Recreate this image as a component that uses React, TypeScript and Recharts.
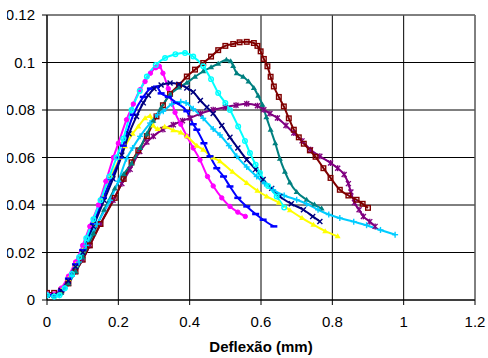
import React from 'react';
import {
  LineChart,
  Line,
  XAxis,
  YAxis,
  CartesianGrid,
  ReferenceLine,
} from 'recharts';

type Pt = [number, number];

const xTicks = [0, 0.2, 0.4, 0.6, 0.8, 1, 1.2];
const yTicks = [0, 0.02, 0.04, 0.06, 0.08, 0.1, 0.12];

const magenta: Pt[] = [
  [0, 0.0025], [0.02, 0.0025], [0.04, 0.005], [0.06, 0.01], [0.08, 0.016], [0.1, 0.023],
  [0.12, 0.031], [0.144, 0.04], [0.165, 0.05], [0.186, 0.06], [0.2, 0.066], [0.223, 0.0759],
  [0.242, 0.0825], [0.261, 0.0886], [0.275, 0.092], [0.29, 0.0955], [0.305, 0.0978],
  [0.315, 0.0984], [0.325, 0.0955], [0.34, 0.089], [0.359, 0.079], [0.375, 0.074],
  [0.392, 0.069], [0.41, 0.064], [0.429, 0.059], [0.45, 0.052], [0.466, 0.048],
  [0.49, 0.043], [0.513, 0.0394], [0.535, 0.037], [0.556, 0.0352],
];

const yellow: Pt[] = [
  [0, 0.002], [0.02, 0.002], [0.04, 0.004], [0.06, 0.009], [0.08, 0.015], [0.1, 0.021],
  [0.13, 0.032], [0.158, 0.043], [0.18, 0.052], [0.205, 0.06], [0.219, 0.0647], [0.24, 0.07],
  [0.256, 0.0731], [0.275, 0.0765], [0.289, 0.0775], [0.298, 0.0735], [0.31, 0.072],
  [0.33, 0.073], [0.354, 0.0715], [0.375, 0.0705], [0.392, 0.0689], [0.42, 0.065],
  [0.438, 0.0633], [0.465, 0.06], [0.485, 0.0584], [0.52, 0.054], [0.56, 0.0493],
  [0.59, 0.046], [0.616, 0.0436], [0.65, 0.041], [0.681, 0.0378], [0.715, 0.0345],
  [0.747, 0.0317], [0.78, 0.029], [0.815, 0.0268],
];

const blue: Pt[] = [
  [0, 0.002], [0.02, 0.002], [0.04, 0.004], [0.06, 0.009], [0.08, 0.015], [0.1, 0.021],
  [0.13, 0.032], [0.158, 0.043], [0.18, 0.051], [0.205, 0.06], [0.214, 0.065], [0.242, 0.078],
  [0.27, 0.0855], [0.29, 0.089], [0.307, 0.0898], [0.32, 0.087], [0.34, 0.0855],
  [0.363, 0.083], [0.392, 0.0795], [0.41, 0.074], [0.42, 0.0717], [0.44, 0.066],
  [0.457, 0.0605], [0.476, 0.0555], [0.495, 0.052], [0.513, 0.0478], [0.535, 0.043],
  [0.56, 0.0394], [0.585, 0.0362], [0.606, 0.0338], [0.636, 0.031],
];

const navy: Pt[] = [
  [0, 0.002], [0.02, 0.002], [0.04, 0.004], [0.06, 0.008], [0.08, 0.014], [0.1, 0.02],
  [0.13, 0.031], [0.16, 0.042], [0.185, 0.051], [0.21, 0.061], [0.23, 0.07], [0.251, 0.0773],
  [0.27, 0.083], [0.284, 0.0862], [0.3, 0.089], [0.32, 0.0905], [0.345, 0.0914],
  [0.37, 0.0908], [0.392, 0.0893], [0.41, 0.0876], [0.43, 0.084], [0.448, 0.0812],
  [0.466, 0.0785], [0.49, 0.0735], [0.513, 0.0685], [0.535, 0.064], [0.56, 0.0591],
  [0.585, 0.055], [0.606, 0.0507], [0.63, 0.047], [0.653, 0.0436], [0.685, 0.0405],
  [0.719, 0.038], [0.745, 0.0352], [0.765, 0.0331],
];

const cyan: Pt[] = [
  [0, 0.002], [0.02, 0.0015], [0.035, 0.002], [0.05, 0.005], [0.07, 0.011], [0.09, 0.018],
  [0.11, 0.026], [0.13, 0.034], [0.15, 0.042], [0.175, 0.052], [0.195, 0.06], [0.214, 0.068],
  [0.237, 0.08], [0.26, 0.088], [0.28, 0.0941], [0.305, 0.099], [0.331, 0.1019],
  [0.36, 0.1035], [0.387, 0.104], [0.41, 0.1025], [0.438, 0.0984], [0.46, 0.093],
  [0.48, 0.0872], [0.5, 0.083], [0.513, 0.08], [0.536, 0.0731], [0.555, 0.067],
  [0.569, 0.0619], [0.585, 0.057], [0.597, 0.0535], [0.62, 0.048], [0.644, 0.0436],
  [0.665, 0.039],
];

const sky: Pt[] = [
  [0, 0.002], [0.02, 0.0015], [0.035, 0.002], [0.05, 0.005], [0.07, 0.01], [0.09, 0.016],
  [0.11, 0.023], [0.14, 0.032], [0.177, 0.042], [0.2, 0.05], [0.223, 0.0595], [0.24, 0.064],
  [0.261, 0.0689], [0.289, 0.0745], [0.31, 0.078], [0.326, 0.0795], [0.35, 0.0825],
  [0.375, 0.0835], [0.39, 0.083], [0.41, 0.0805], [0.438, 0.0765], [0.466, 0.072],
  [0.485, 0.0695], [0.51, 0.065], [0.532, 0.0605], [0.56, 0.056], [0.588, 0.052],
  [0.61, 0.049], [0.634, 0.0464], [0.665, 0.044], [0.7, 0.0422], [0.728, 0.0405],
  [0.76, 0.038], [0.79, 0.036], [0.821, 0.0345], [0.86, 0.033], [0.896, 0.0315],
  [0.935, 0.0295], [0.976, 0.0275],
];

const teal: Pt[] = [
  [0, 0.002], [0.02, 0.002], [0.04, 0.003], [0.06, 0.007], [0.08, 0.012], [0.1, 0.018],
  [0.13, 0.028], [0.16, 0.038], [0.19, 0.047], [0.215, 0.053], [0.237, 0.0575],
  [0.261, 0.064], [0.28, 0.07], [0.298, 0.0755], [0.32, 0.081], [0.345, 0.0865],
  [0.37, 0.0895], [0.392, 0.0915], [0.415, 0.094], [0.438, 0.0963], [0.46, 0.098],
  [0.48, 0.0995], [0.503, 0.1012], [0.515, 0.1005], [0.522, 0.0985], [0.532, 0.0955],
  [0.55, 0.094], [0.565, 0.092], [0.58, 0.0893], [0.592, 0.086], [0.604, 0.0822],
  [0.615, 0.077], [0.627, 0.0717], [0.64, 0.066], [0.653, 0.0595], [0.667, 0.054],
  [0.681, 0.0495], [0.7, 0.0455], [0.728, 0.0422], [0.75, 0.0402], [0.77, 0.0385],
];

const darkRed: Pt[] = [
  [0, 0.003], [0.02, 0.003], [0.04, 0.004], [0.06, 0.007], [0.08, 0.012], [0.1, 0.017],
  [0.12, 0.023], [0.15, 0.032], [0.19, 0.043], [0.215, 0.051], [0.237, 0.058],
  [0.256, 0.063], [0.28, 0.069], [0.307, 0.0773], [0.325, 0.082], [0.345, 0.0868],
  [0.37, 0.0905], [0.392, 0.0941], [0.415, 0.097], [0.438, 0.0998], [0.46, 0.1025],
  [0.48, 0.1052], [0.5, 0.107], [0.522, 0.1078], [0.54, 0.1085], [0.56, 0.1087],
  [0.58, 0.1082], [0.59, 0.107], [0.599, 0.1047], [0.608, 0.1015], [0.618, 0.0984],
  [0.627, 0.094], [0.636, 0.0899], [0.65, 0.0855], [0.664, 0.0815], [0.678, 0.0765],
  [0.692, 0.0717], [0.706, 0.0685], [0.72, 0.0658], [0.737, 0.063], [0.753, 0.0603],
  [0.775, 0.0555], [0.795, 0.0514], [0.821, 0.0464], [0.845, 0.044], [0.868, 0.0422],
  [0.885, 0.0405], [0.9, 0.0388],
];

const purple: Pt[] = [
  [0, 0.002], [0.02, 0.002], [0.04, 0.004], [0.06, 0.007], [0.08, 0.012], [0.1, 0.017],
  [0.12, 0.023], [0.15, 0.032], [0.185, 0.042], [0.21, 0.049], [0.233, 0.055],
  [0.26, 0.0625], [0.28, 0.0665], [0.298, 0.0689], [0.325, 0.0718], [0.354, 0.0738],
  [0.38, 0.0755], [0.401, 0.0766], [0.43, 0.0785], [0.466, 0.0801], [0.5, 0.0812],
  [0.53, 0.082], [0.56, 0.0826], [0.59, 0.0818], [0.608, 0.0801], [0.625, 0.0785],
  [0.646, 0.0766], [0.67, 0.0735], [0.692, 0.0703], [0.715, 0.067], [0.739, 0.0633],
  [0.765, 0.0605], [0.795, 0.0577], [0.815, 0.0555], [0.833, 0.0528], [0.845, 0.049],
  [0.852, 0.0455], [0.862, 0.041], [0.875, 0.038], [0.887, 0.0352], [0.905, 0.033],
  [0.92, 0.031],
];

type Shape = 'circle' | 'ring' | 'triangle' | 'dash' | 'cross' | 'plus' | 'square' | 'star';

const series: { name: string; points: Pt[]; color: string; shape: Shape }[] = [
  { name: 'purple', points: purple, color: '#800080', shape: 'star' },
  { name: 'darkRed', points: darkRed, color: '#800000', shape: 'square' },
  { name: 'teal', points: teal, color: '#008080', shape: 'triangle' },
  { name: 'magenta', points: magenta, color: '#FF00FF', shape: 'circle' },
  { name: 'yellow', points: yellow, color: '#FFFF00', shape: 'triangle' },
  { name: 'blue', points: blue, color: '#0000FF', shape: 'dash' },
  { name: 'navy', points: navy, color: '#000080', shape: 'cross' },
  { name: 'sky', points: sky, color: '#00CCFF', shape: 'plus' },
  { name: 'cyan', points: cyan, color: '#00FFFF', shape: 'ring' },
];

function makeDot(shape: Shape, color: string) {
  return (props: any) => {
    const { cx, cy, index } = props;
    const k = `d-${index}`;
    if (cx == null || cy == null) return <g key={k} />;
    switch (shape) {
      case 'circle':
        return <circle key={k} cx={cx} cy={cy} r={2.2} fill={color} stroke={color} />;
      case 'ring':
        return <circle key={k} cx={cx} cy={cy} r={2.3} fill="none" stroke={color} strokeWidth={1.4} />;
      case 'triangle':
        return (
          <polygon
            key={k}
            points={`${cx},${cy - 3} ${cx - 3},${cy + 2} ${cx + 3},${cy + 2}`}
            fill={color}
          />
        );
      case 'dash':
        return <line key={k} x1={cx - 3.5} y1={cy} x2={cx + 3.5} y2={cy} stroke={color} strokeWidth={2.5} />;
      case 'cross':
        return (
          <g key={k} stroke={color} strokeWidth={1.4}>
            <line x1={cx - 2.5} y1={cy - 2.5} x2={cx + 2.5} y2={cy + 2.5} />
            <line x1={cx - 2.5} y1={cy + 2.5} x2={cx + 2.5} y2={cy - 2.5} />
          </g>
        );
      case 'plus':
        return (
          <g key={k} stroke={color} strokeWidth={1.4}>
            <line x1={cx - 3} y1={cy} x2={cx + 3} y2={cy} />
            <line x1={cx} y1={cy - 3} x2={cx} y2={cy + 3} />
          </g>
        );
      case 'square':
        return (
          <rect key={k} x={cx - 2.3} y={cy - 2.3} width={4.6} height={4.6} fill="none" stroke={color} strokeWidth={1.4} />
        );
      case 'star':
        return (
          <g key={k} stroke={color} strokeWidth={1.4}>
            <line x1={cx - 2.5} y1={cy - 2.5} x2={cx + 2.5} y2={cy + 2.5} />
            <line x1={cx - 2.5} y1={cy + 2.5} x2={cx + 2.5} y2={cy - 2.5} />
            <line x1={cx} y1={cy - 3} x2={cx} y2={cy + 3} />
          </g>
        );
    }
  };
}

const font = 'Arial, "Liberation Sans", sans-serif';

export default function App() {
  return (
    <div style={{ position: 'absolute', left: 7, top: 0, width: 481, height: 358, fontFamily: font }}>
      <LineChart width={481} height={358} margin={{ top: 15, right: 13, bottom: 0, left: 0 }}>
        <CartesianGrid stroke="#000" strokeWidth={1} />
        <XAxis
          type="number"
          dataKey="x"
          domain={[0, 1.2]}
          ticks={xTicks}
          allowDataOverflow
          height={58}
          stroke="#000"
          tickSize={5}
          tickMargin={11}
          tick={{ fill: '#000', fontSize: 15, fontFamily: font }}
          tickFormatter={(v: number) => String(v)}
          label={{
            value: 'Deflexão (mm)',
            position: 'insideBottom',
            offset: 6,
            fill: '#000',
            fontSize: 15,
            fontWeight: 'bold',
            fontFamily: font,
          }}
        />
        <YAxis
          type="number"
          domain={[0, 0.12]}
          ticks={yTicks}
          allowDataOverflow
          width={40}
          stroke="#000"
          tickSize={5}
          tickMargin={7}
          tick={{ fill: '#000', fontSize: 15, fontFamily: font }}
          tickFormatter={(v: number) => String(v)}
        />
        <ReferenceLine y={0.12} stroke="#808080" />
        <ReferenceLine x={1.2} stroke="#808080" />
        {series.map(s => (
          <Line
            key={s.name}
            data={s.points.map(([x, y]) => ({ x, y }))}
            dataKey="y"
            type="monotone"
            stroke={s.color}
            strokeWidth={2}
            dot={makeDot(s.shape, s.color)}
            activeDot={false}
            isAnimationActive={false}
          />
        ))}
      </LineChart>
    </div>
  );
}
